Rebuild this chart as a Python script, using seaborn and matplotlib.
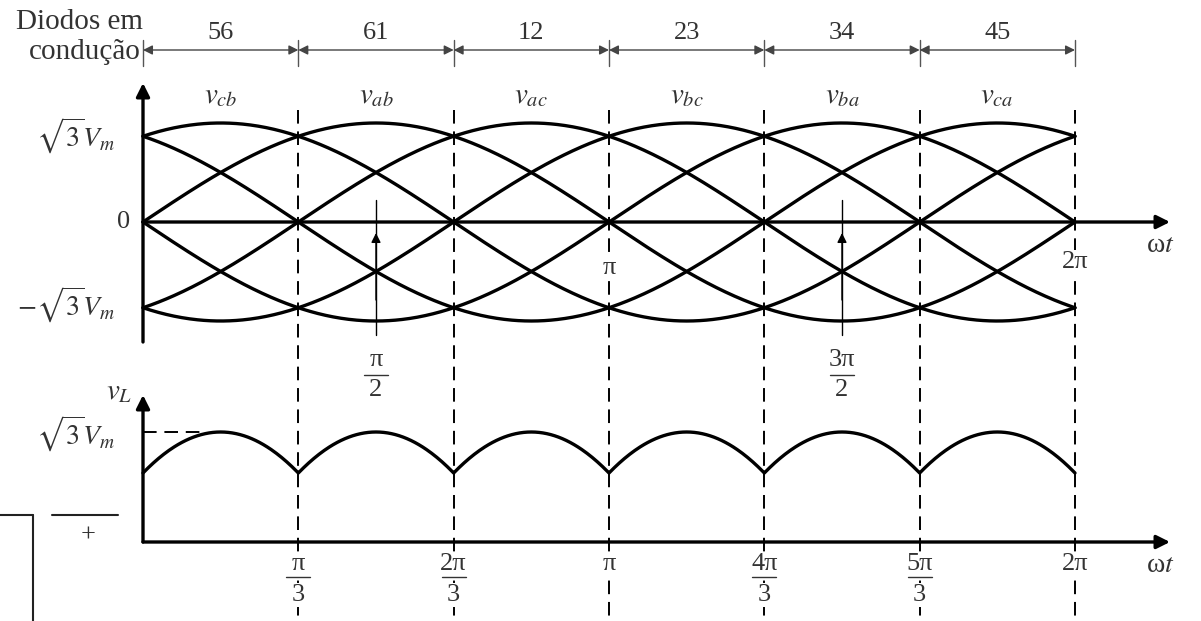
import numpy as np
import pandas as pd
import matplotlib
matplotlib.use("Agg")
import matplotlib.pyplot as plt
import matplotlib.transforms as mtransforms
import seaborn as sns

# Line-to-line voltages, amplitude in units of sqrt(3)*Vm, phase shift in degrees
voltage_names = ["vcb", "vab", "vac", "vbc", "vba", "vca"]
voltage_labels = [r"$v_{cb}$", r"$v_{ab}$", r"$v_{ac}$", r"$v_{bc}$", r"$v_{ba}$", r"$v_{ca}$"]
voltage_phase_deg = [60, 0, -60, -120, -180, -240]
amplitude = 1.0

# Diode pairs conducting in each 60-degree interval
diode_pairs = ["56", "61", "12", "23", "34", "45"]

# Interval boundaries (multiples of pi/3) and their labels (numerator, denominator)
boundary_steps = [1, 2, 3, 4, 5, 6]
boundary_labels = [("π", "3"), ("2π", "3"), ("π", None), ("4π", "3"), ("5π", "3"), ("2π", None)]

W, H = 1201, 621
DPI = 100

sns.set_theme(style="white")
plt.rcParams["font.family"] = ["Liberation Serif", "DejaVu Serif"]
plt.rcParams["mathtext.fontset"] = "stix"

TXT = "#333333"
MASK = dict(boxstyle="square,pad=0.05", fc="white", ec="none")

# one period of each waveform
wt = np.linspace(0, 2 * np.pi, 721)
frames = []
for name, ph in zip(voltage_names, voltage_phase_deg):
    frames.append(pd.DataFrame({"wt": wt, "v": amplitude * np.sin(wt + np.deg2rad(ph)), "curve": name}))
waves = pd.concat(frames, ignore_index=True)
# rectified output: upper envelope of the line voltages
vl = waves.groupby("wt", as_index=False)["v"].max()

fig = plt.figure(figsize=(W / DPI, H / DPI), dpi=DPI)
fig.patch.set_facecolor("white")

top_h = 375
ax_top = fig.add_axes([0, (H - top_h) / H, 1, top_h / H])
ax_bot = fig.add_axes([0, 0, 1, (H - top_h) / H])
for ax in (ax_top, ax_bot):
    ax.set_axis_off()
    ax.patch.set_visible(False)

# horizontal scale: omega*t = 0 at x=143 px, 2*pi at x=1075 px
x0_px, x2pi_px = 143, 1075
kx = (x2pi_px - x0_px) / (2 * np.pi)
xlim = (-x0_px / kx, (W - x0_px) / kx)
ax_top.set_xlim(*xlim)
ax_bot.set_xlim(*xlim)

# top panel: zero at y=222 px, 99 px per unit
zero_px, unit_px = 222, 99
ax_top.set_ylim(-(top_h - zero_px) / unit_px, zero_px / unit_px)
# bottom panel: peak at y=432 px, 306 px per unit
peak_px, bunit = 432, 306
ax_bot.set_ylim(1 - (H - peak_px) / bunit, 1 + (peak_px - top_h) / bunit)

sns.lineplot(data=waves, x="wt", y="v", units="curve", estimator=None, color="black",
             lw=2.4, legend=False, ax=ax_top, zorder=3)
sns.lineplot(data=vl, x="wt", y="v", color="black", lw=2.4, legend=False, ax=ax_bot, zorder=3)
ax_top.set_xlabel(""); ax_top.set_ylabel("")
ax_bot.set_xlabel(""); ax_bot.set_ylabel("")

# transforms: pixel y measured from the top of the figure
flip = mtransforms.Affine2D().scale(1, -1).translate(0, H)
TX = mtransforms.blended_transform_factory(ax_top.transData, flip)
PX = flip

def arrow(xy, xytext, trans, lw=2.4, ms=20, style="-|>", color="black"):
    ax_top.annotate("", xy=xy, xytext=xytext, xycoords=trans, textcoords=trans,
                    arrowprops=dict(arrowstyle=style, lw=lw, color=color,
                                    mutation_scale=ms, shrinkA=0, shrinkB=0),
                    annotation_clip=False)

# axes with arrowheads
x_end = (1170 - x0_px) / kx
arrow((0, 83), (0, 342), TX)
arrow((x_end, zero_px), (0, zero_px), TX)
arrow((0, 395), (0, 542), TX)
arrow((x_end, 542), (0, 542), TX)

# dashed interval boundaries
for k in boundary_steps:
    x = k * np.pi / 3
    ax_top.plot([x, x], [110, H], transform=TX, clip_on=False, color="black",
                lw=1.4, ls=(0, (7, 4)), zorder=1)

# diode conduction strip
for k in range(7):
    x = k * np.pi / 3
    ax_top.plot([x, x], [40, 66], transform=TX, clip_on=False, color="#555555", lw=1.0)
for k, lab in enumerate(diode_pairs):
    xa, xb = k * np.pi / 3, (k + 1) * np.pi / 3
    arrow((xb, 50), (xa, 50), TX, lw=1.0, ms=14, style="<|-|>", color="#444444")
    ax_top.text((xa + xb) / 2, 33, lab, transform=TX, ha="center", va="center",
                fontsize=19, color=TXT)
fig.text(143, 22, "Diodos em", transform=PX, ha="right", va="center", fontsize=21, color=TXT)
fig.text(141, 52, "condução", transform=PX, ha="right", va="center", fontsize=21, color=TXT)

# waveform names
for k, lab in enumerate(voltage_labels):
    ax_top.text((k + 0.5) * np.pi / 3, 96, lab, transform=TX, ha="center", va="center",
                fontsize=21, color=TXT)

# top panel value labels
fig.text(115, 136, r"$\sqrt{3}V_m$", transform=PX, ha="right", va="center", fontsize=20, color=TXT)
fig.text(130, 222, "0", transform=PX, ha="right", va="center", fontsize=19, color=TXT)
fig.text(115, 305, r"$-\sqrt{3}V_m$", transform=PX, ha="right", va="center", fontsize=20, color=TXT)
ax_top.text(np.pi, 268, "π", transform=TX, ha="center", va="center", fontsize=19,
            color=TXT, bbox=MASK, zorder=4)
ax_top.text(2 * np.pi, 262, "2π", transform=TX, ha="center", va="center", fontsize=19,
            color=TXT, bbox=MASK, zorder=4)
fig.text(1160, 246, "ω$t$", transform=PX, ha="center", va="center", fontsize=20, color=TXT)

# fraction labels: numerator, bar, denominator
def fraction(x, num, den, y_num, y_bar, y_den, trans, fs=19):
    ax_top.text(x, y_num, num, transform=trans, ha="center", va="center", fontsize=fs,
                color=TXT, bbox=MASK, zorder=4)
    if den is not None:
        ax_top.plot([x - 12 / kx, x + 12 / kx], [y_bar, y_bar], transform=trans,
                    clip_on=False, color=TXT, lw=1.0, zorder=5)
        ax_top.text(x, y_den, den, transform=trans, ha="center", va="center", fontsize=fs,
                    color=TXT, bbox=MASK, zorder=4)

# markers at pi/2 and 3pi/2
for xm, num in [(np.pi / 2, "π"), (3 * np.pi / 2, "3π")]:
    ax_top.plot([xm, xm], [200, 335], transform=TX, clip_on=False, color="black", lw=1.0)
    arrow((xm, 233), (xm, 300), TX, lw=1.0, ms=14)
    fraction(xm, num, "2", 360, 375, 390, TX)

# bottom panel labels
fig.text(132, 392, r"$v_L$", transform=PX, ha="right", va="center", fontsize=21, color=TXT)
fig.text(115, 434, r"$\sqrt{3}V_m$", transform=PX, ha="right", va="center", fontsize=20, color=TXT)
ax_bot.plot([0, (200 - x0_px) / kx], [1, 1], color="black", lw=1.4, ls=(0, (7, 4)), zorder=2)
for k, (num, den) in zip(boundary_steps, boundary_labels):
    fraction(k * np.pi / 3, num, den, 564, 577, 595, TX)
fig.text(1160, 566, "ω$t$", transform=PX, ha="center", va="center", fontsize=20, color=TXT)

# circuit fragment at the lower left edge
for xs, ys in [([0, 33], [515, 515]), ([33, 33], [515, H]), ([52, 118], [515, 515])]:
    fig.add_artist(matplotlib.lines.Line2D(xs, ys, transform=PX, color="#222222", lw=1.5))
fig.text(88, 536, "+", transform=PX, ha="center", va="center", fontsize=19, color=TXT)

fig.savefig("out.png", dpi=DPI)
